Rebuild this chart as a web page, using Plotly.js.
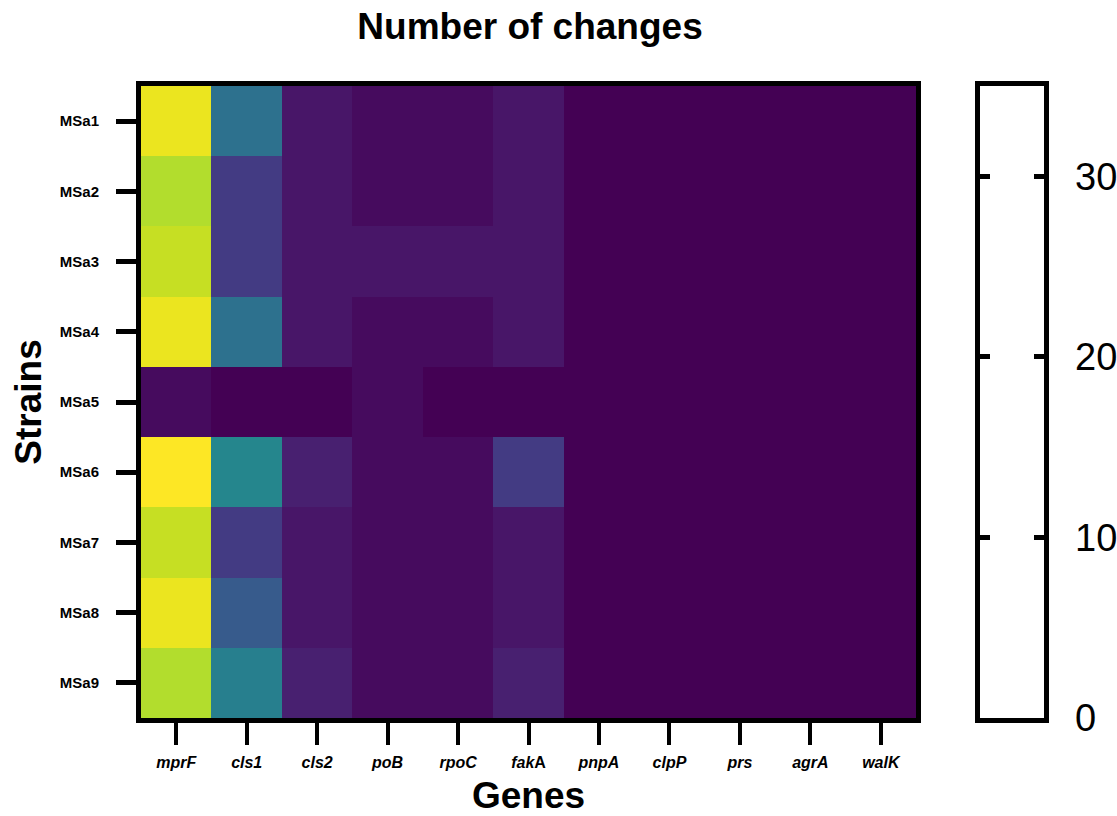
<!DOCTYPE html>
<html>
<head>
<meta charset="utf-8">
<script src="https://cdn.plot.ly/plotly-3.0.1.min.js"></script>
<style>html,body{margin:0;padding:0;background:#fff;}#chart{width:1117px;height:816px;}</style>
</head>
<body>
<div id="chart"></div>
<script>
// Data
const genes = ["mprF","cls1","cls2","poB","rpoC","fakA","pnpA","clpP","prs","agrA","walK"];
const geneLabels = ["<i>mprF</i>","<i>cls1</i>","<i>cls2</i>","<i>poB</i>","<i>rpoC</i>","<i>fak</i>A","<i>pnpA</i>","<i>clpP</i>","<i>prs</i>","<i>agrA</i>","<i>walK</i>"];
const strains = ["MSa1","MSa2","MSa3","MSa4","MSa5","MSa6","MSa7","MSa8","MSa9"];
const MSa1 = [34, 13, 2, 1, 1, 2, 0, 0, 0, 0, 0];
const MSa2 = [31, 6, 2, 1, 1, 2, 0, 0, 0, 0, 0];
const MSa3 = [32, 6, 2, 2, 2, 2, 0, 0, 0, 0, 0];
const MSa4 = [34, 13, 2, 1, 1, 2, 0, 0, 0, 0, 0];
const MSa5 = [1, 0, 0, 1, 0, 0, 0, 0, 0, 0, 0];
const MSa6 = [35, 16, 3, 1, 1, 6, 0, 0, 0, 0, 0];
const MSa7 = [32, 6, 2, 1, 1, 2, 0, 0, 0, 0, 0];
const MSa8 = [34, 10, 2, 1, 1, 2, 0, 0, 0, 0, 0];
const MSa9 = [31, 15, 3, 1, 1, 3, 0, 0, 0, 0, 0];
const zValues = [MSa1, MSa2, MSa3, MSa4, MSa5, MSa6, MSa7, MSa8, MSa9];
const scaleTicks = [0, 10, 20, 30];
const scaleMax = 35;

const FONT = "Liberation Sans, Arial, Helvetica, sans-serif";

const heat = {
  type: "heatmap",
  x: genes,
  y: strains,
  z: zValues,
  colorscale: "Viridis",
  zmin: 0,
  zmax: scaleMax,
  showscale: false,
  xaxis: "x",
  yaxis: "y",
  hoverongaps: false
};

// empty trace to anchor the scale box subplot
const scaleBox = {
  type: "scatter",
  x: [null],
  y: [null],
  xaxis: "x2",
  yaxis: "y2",
  mode: "markers",
  showlegend: false,
  hoverinfo: "skip"
};

const layout = {
  width: 1117,
  height: 816,
  margin: {l: 141, r: 0, t: 86, b: 98},
  paper_bgcolor: "#ffffff",
  plot_bgcolor: "#ffffff",
  showlegend: false,
  font: {family: FONT, color: "#000000"},
  title: {
    text: "<b>Number of changes</b>",
    font: {family: FONT, size: 37, color: "#000000"},
    xref: "paper", x: 0.3986, xanchor: "center",
    yref: "container", y: 0.968, yanchor: "middle"
  },
  xaxis: {
    domain: [0, 0.7941],
    anchor: "y",
    type: "category",
    categoryorder: "array",
    categoryarray: genes,
    tickvals: genes,
    ticktext: geneLabels,
    range: [-0.5, 10.5],
    showline: true, mirror: true, linecolor: "#000000", linewidth: 5,
    ticks: "outside", ticklen: 22, tickwidth: 4, tickcolor: "#000000",
    tickfont: {family: FONT, size: 16, color: "#000000", weight: "bold"},
    ticklabelstandoff: 4,
    showgrid: false, zeroline: false,
    automargin: false,
    title: {text: "<b>Genes</b>", font: {family: FONT, size: 37, color: "#000000"}, standoff: 19}
  },
  yaxis: {
    domain: [0, 1],
    anchor: "x",
    type: "category",
    categoryorder: "array",
    categoryarray: strains,
    range: [8.5, -0.5],
    showline: true, mirror: true, linecolor: "#000000", linewidth: 5,
    ticks: "outside", ticklen: 20, tickwidth: 5, tickcolor: "#000000",
    tickfont: {family: FONT, size: 15, color: "#000000", weight: "bold"},
    ticklabelstandoff: 14,
    showgrid: false, zeroline: false,
    automargin: false,
    title: {text: "<b>Strains</b>", font: {family: FONT, size: 37, color: "#000000"}, standoff: 8}
  },
  xaxis2: {
    domain: [0.8601, 0.9257],
    anchor: "y2",
    range: [0, 1],
    showline: true, mirror: true, linecolor: "#000000", linewidth: 5,
    ticks: "", showticklabels: false, showgrid: false, zeroline: false,
    fixedrange: true
  },
  yaxis2: {
    domain: [0, 1],
    anchor: "x2",
    side: "right",
    range: [0, scaleMax],
    tickvals: scaleTicks,
    ticktext: scaleTicks.map(String),
    showline: true, mirror: "ticks", linecolor: "#000000", linewidth: 5,
    ticks: "inside", ticklen: 10, tickwidth: 5, tickcolor: "#000000",
    tickfont: {family: FONT, size: 38, color: "#000000"},
    ticklabelstandoff: 18,
    showgrid: false, zeroline: false,
    fixedrange: true
  }
};

Plotly.newPlot("chart", [heat, scaleBox], layout, {displayModeBar: false, staticPlot: true});
</script>
</body>
</html>
